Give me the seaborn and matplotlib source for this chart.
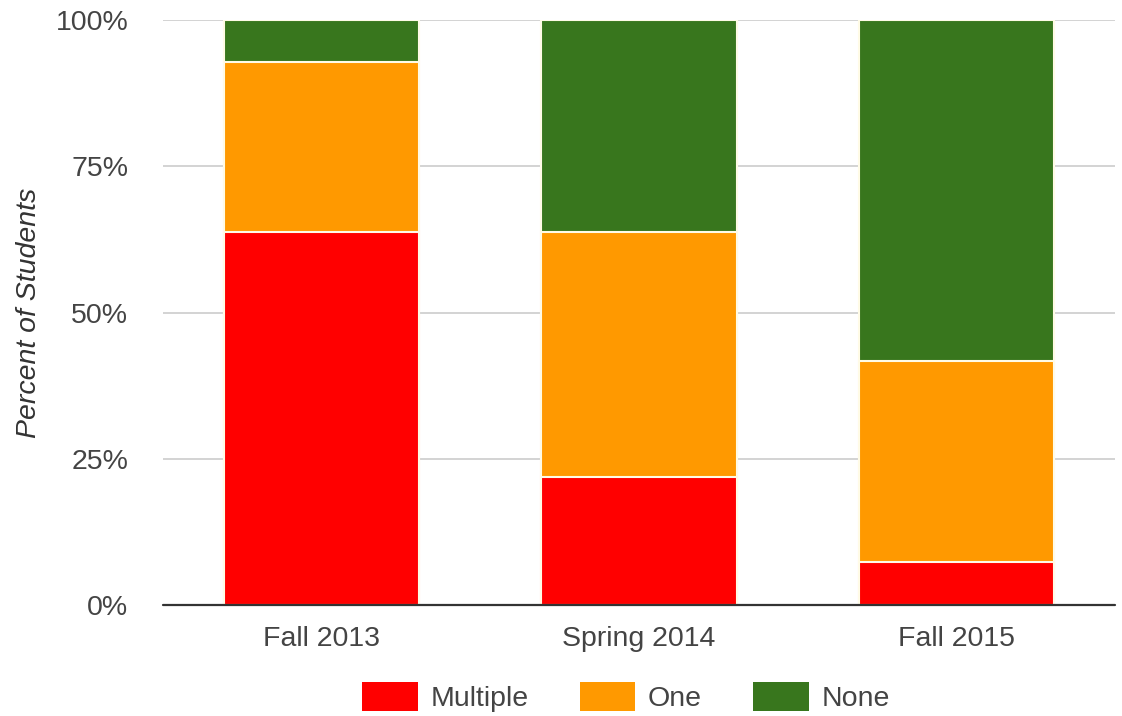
import seaborn as sns
import pandas as pd
import matplotlib.pyplot as plt
import numpy as np
from matplotlib.patches import Patch

semesters = ["Fall 2013", "Spring 2014", "Fall 2015"]
multiple = [63.8, 21.9, 7.3]
one = [29.0, 41.9, 34.4]
none = [7.2, 36.2, 58.3]

series = ["Multiple", "One", "None"]
colors = {"Multiple": "#ff0000", "One": "#ff9900", "None": "#38761d"}

df = pd.DataFrame({"semester": semesters, "Multiple": multiple, "One": one, "None": none})
# cumulative tops so the layers can be overlaid as a stack
df["top_Multiple"] = df["Multiple"]
df["top_One"] = df["Multiple"] + df["One"]
df["top_None"] = df["top_One"] + df["None"]

sns.set_style("white")
plt.rcParams["font.family"] = ["Liberation Sans", "DejaVu Sans"]

fig = plt.figure(figsize=(11.22, 7.16), dpi=100)
ax = fig.add_axes([0.1453, 0.155, 0.8485, 0.817])

for s in reversed(series):
    sns.barplot(data=df, x="semester", y="top_" + s, color=colors[s], width=0.615,
                edgecolor="#fffbe6", linewidth=1.5, saturation=1, ax=ax, zorder=3)

ax.set_ylim(0, 100)
ax.set_xlim(-0.5, 2.5)
ax.set_yticks([0, 25, 50, 75, 100])
ax.set_yticklabels(["0%", "25%", "50%", "75%", "100%"])
ax.yaxis.grid(True, color="#cccccc", linewidth=1.2, zorder=0)
ax.set_axisbelow(True)
ax.axhline(0, color="#333333", linewidth=1.6, zorder=4, clip_on=False)
for sp in ax.spines.values():
    sp.set_visible(False)
ax.tick_params(axis="y", length=0, pad=25, labelsize=20.5, labelcolor="#444444")
ax.tick_params(axis="x", length=0, pad=15, labelsize=20.5, labelcolor="#444444")
ax.set_xlabel("")
ax.set_ylabel("Percent of Students", fontsize=20.5, style="italic", color="#333333")
ax.yaxis.set_label_coords(-0.127, 0.5)

handles = [Patch(facecolor=colors[s], edgecolor="none", label=s) for s in series]
fig.legend(handles=handles, loc="upper center", bbox_to_anchor=(0.558, 0.047), ncol=3,
           frameon=False, fontsize=20.5, handlelength=1.95, handleheight=1.15,
           handletextpad=0.45, columnspacing=1.8, labelcolor="#444444",
           borderaxespad=0, borderpad=0)

plt.savefig("out.png", dpi=100)
plt.close()
